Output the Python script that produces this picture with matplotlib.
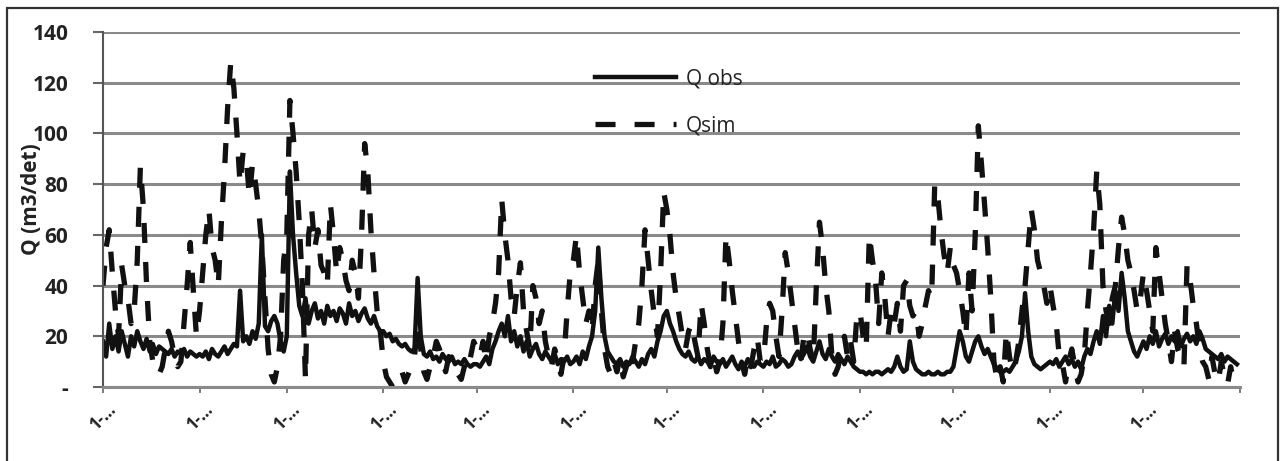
import numpy as np
import matplotlib
matplotlib.use("Agg")
import matplotlib.pyplot as plt
from matplotlib.patches import Rectangle

plt.rcParams['font.family'] = ['Open Sans', 'DejaVu Sans']

# daily discharge, one list per month (m3/det)
obs_jan = [18, 12, 25, 15, 20, 14, 22, 17, 12, 20, 16, 22, 18, 15, 19, 14, 17, 13, 16, 15, 14, 13, 15, 12, 14, 13, 15, 12, 14, 13, 12]
obs_feb = [13, 12, 14, 11, 15, 13, 12, 14, 16, 13, 15, 17, 16, 38, 18, 20, 17, 22, 19, 25, 60, 24, 22, 26, 28, 25, 18, 14]
obs_mar = [20, 85, 60, 45, 32, 28, 35, 25, 30, 33, 27, 30, 25, 32, 28, 30, 26, 31, 29, 25, 33, 28, 30, 26, 29, 31, 27, 25, 28, 24, 22]
obs_apr = [22, 20, 21, 18, 19, 17, 16, 17, 15, 14, 15, 43, 20, 13, 12, 14, 11, 12, 10, 13, 11, 10, 12, 9, 10, 9, 11, 9, 8, 9]
obs_may = [9, 8, 10, 12, 9, 15, 18, 22, 25, 20, 28, 18, 22, 16, 20, 14, 18, 12, 15, 17, 13, 11, 14, 12, 10, 13, 9, 11, 10, 12, 9]
obs_jun = [10, 12, 9, 14, 11, 16, 20, 30, 55, 35, 20, 14, 12, 10, 9, 11, 8, 10, 9, 12, 10, 8, 11, 9, 13, 15, 12, 18, 22, 28]
obs_jul = [30, 25, 22, 18, 15, 13, 12, 14, 11, 10, 12, 9, 11, 10, 8, 12, 10, 9, 11, 8, 10, 12, 9, 7, 10, 8, 11, 9, 8, 10, 9]
obs_aug = [8, 10, 9, 12, 8, 9, 11, 10, 8, 9, 12, 14, 11, 13, 16, 12, 10, 14, 18, 13, 11, 15, 12, 10, 13, 11, 9, 12, 10, 8, 7]
obs_sep = [6, 6, 5, 6, 5, 6, 6, 5, 6, 7, 6, 8, 12, 8, 6, 7, 18, 10, 7, 6, 5, 5, 6, 5, 5, 6, 5, 5, 6, 6]
obs_oct = [8, 15, 22, 18, 12, 10, 14, 18, 20, 16, 13, 15, 12, 9, 7, 6, 6, 7, 6, 8, 10, 14, 20, 37, 22, 12, 9, 8, 7, 8, 9]
obs_nov = [10, 9, 11, 8, 10, 12, 9, 11, 8, 10, 7, 12, 15, 13, 18, 22, 17, 28, 20, 32, 25, 38, 30, 45, 35, 22, 18, 14, 12, 15]
obs_dec = [18, 15, 20, 17, 22, 16, 19, 21, 17, 20, 18, 22, 16, 19, 21, 18, 20, 17, 22, 19, 15, 14, 13, 12, 11, 13, 10, 12, 11, 10, 9]

sim_jan = [40, 55, 62, 45, 30, 20, 48, 40, 35, 25, 30, 50, 87, 70, 40, 18, 10, 6, 5, 8, 15, 22, 18, 12, 8, 10, 25, 40, 57, 38, 20]
sim_feb = [30, 45, 60, 70, 55, 50, 40, 65, 85, 110, 128, 118, 100, 80, 93, 90, 75, 88, 80, 70, 55, 35, 15, 5, 2, 8, 20, 50]
sim_mar = [60, 113, 100, 85, 65, 40, 3, 60, 70, 55, 62, 48, 45, 40, 72, 60, 45, 55, 50, 42, 38, 50, 45, 35, 60, 96, 85, 62, 45, 30, 22]
sim_apr = [10, 4, 2, 0, 1, 3, 6, 2, 5, 8, 12, 25, 15, 6, 3, 8, 12, 18, 15, 10, 6, 12, 9, 7, 5, 3, 8, 6, 12, 18]
sim_may = [15, 12, 18, 10, 20, 25, 33, 45, 74, 60, 50, 35, 28, 40, 49, 30, 22, 15, 40, 35, 25, 30, 18, 12, 8, 15, 10, 5, 12, 30, 45]
sim_jun = [50, 60, 45, 35, 25, 30, 22, 40, 50, 30, 15, 8, 5, 10, 6, 12, 4, 8, 14, 10, 18, 25, 40, 62, 50, 38, 28, 20, 45, 77]
sim_jul = [70, 60, 45, 35, 28, 20, 15, 22, 25, 18, 12, 33, 25, 15, 8, 12, 6, 10, 25, 60, 50, 38, 28, 18, 10, 5, 12, 8, 15, 20, 10]
sim_aug = [10, 25, 33, 30, 20, 12, 30, 53, 45, 35, 25, 15, 10, 20, 22, 15, 10, 40, 65, 55, 40, 30, 12, 5, 8, 15, 20, 12, 18, 10, 28]
sim_sep = [30, 20, 15, 60, 50, 42, 25, 45, 35, 20, 30, 25, 33, 22, 40, 42, 32, 28, 30, 20, 25, 32, 38, 35, 80, 75, 62, 52, 45, 55]
sim_oct = [48, 45, 38, 30, 20, 45, 30, 60, 103, 88, 72, 55, 35, 10, 3, 8, 2, 22, 12, 6, 10, 18, 30, 40, 55, 70, 62, 50, 45, 40, 33]
sim_nov = [40, 32, 25, 12, 9, 2, 10, 15, 8, 2, 5, 12, 30, 45, 62, 85, 72, 40, 30, 25, 35, 40, 55, 67, 60, 50, 45, 38, 30, 35]
sim_dec = [45, 38, 30, 22, 55, 45, 35, 25, 18, 10, 22, 15, 12, 8, 48, 42, 32, 25, 15, 10, 8, 3, 12, 5, 2, 10, 4, 1, 8, 2, 0]

month_days = [31, 28, 31, 30, 31, 30, 31, 31, 30, 31, 30, 31]
x_labels = ["1-\u2026"] * 12
y_ticks = [0, 20, 40, 60, 80, 100, 120, 140]
y_labels = ["-", "20", "40", "60", "80", "100", "120", "140"]

q_obs = np.array(obs_jan + obs_feb + obs_mar + obs_apr + obs_may + obs_jun
                 + obs_jul + obs_aug + obs_sep + obs_oct + obs_nov + obs_dec)
q_sim = np.array(sim_jan + sim_feb + sim_mar + sim_apr + sim_may + sim_jun
                 + sim_jul + sim_aug + sim_sep + sim_oct + sim_nov + sim_dec)
days = np.arange(len(q_obs))
month_start = np.concatenate([[0], np.cumsum(month_days)])

fig = plt.figure(figsize=(12.83, 4.61), dpi=100)
ax = fig.add_axes([103/1283, 1 - 387/461, 1137/1283, 355/461])

ax.plot(days, q_obs, color='#111111', lw=3.2, label='Q obs', solid_joinstyle='round')
ax.plot(days, q_sim, color='#111111', lw=3.8, dashes=(3.8, 3.6), label='Qsim')

ax.set_xlim(0, 365)
ax.set_ylim(0, 140)
ax.set_yticks(y_ticks)
ax.set_yticklabels(y_labels, fontsize=15, fontweight='bold', color='#222222')
ax.set_xticks(month_start)
ax.set_xticklabels(x_labels + [""], rotation=45, fontsize=12, fontweight='bold',
                   color='#222222', ha='center', va='top')
ax.tick_params(axis='y', length=7, width=1.5, color='#666666', pad=18)
ax.tick_params(axis='x', length=4, width=1.2, color='#666666', pad=6)

ax.grid(axis='y', color='#8a8a8a', lw=2.2)
ax.set_axisbelow(True)
for s in ['top', 'right']:
    ax.spines[s].set_visible(False)
ax.spines['left'].set_color('#555555')
ax.spines['left'].set_linewidth(1.5)
ax.spines['bottom'].set_color('#8a8a8a')
ax.spines['bottom'].set_linewidth(2.2)

ax.set_ylabel("Q (m3/det)", fontsize=15, fontweight='bold', color='#222222')
ax.yaxis.set_label_coords(-0.054, 0.53)

leg = fig.legend(loc='upper left', bbox_to_anchor=(595/1283, 1 - 68/461), frameon=False,
                 fontsize=15, handlelength=3.9, handletextpad=0.45, labelspacing=1.25,
                 borderpad=0, borderaxespad=0)
for t in leg.get_texts():
    t.set_color('#222222')

fig.patches.append(Rectangle((7/1283, -0.02), 1271/1283, 1.02 - 8/461, transform=fig.transFigure,
                             fill=False, ec='#333333', lw=1.6))

fig.savefig("out.png", dpi=100)
